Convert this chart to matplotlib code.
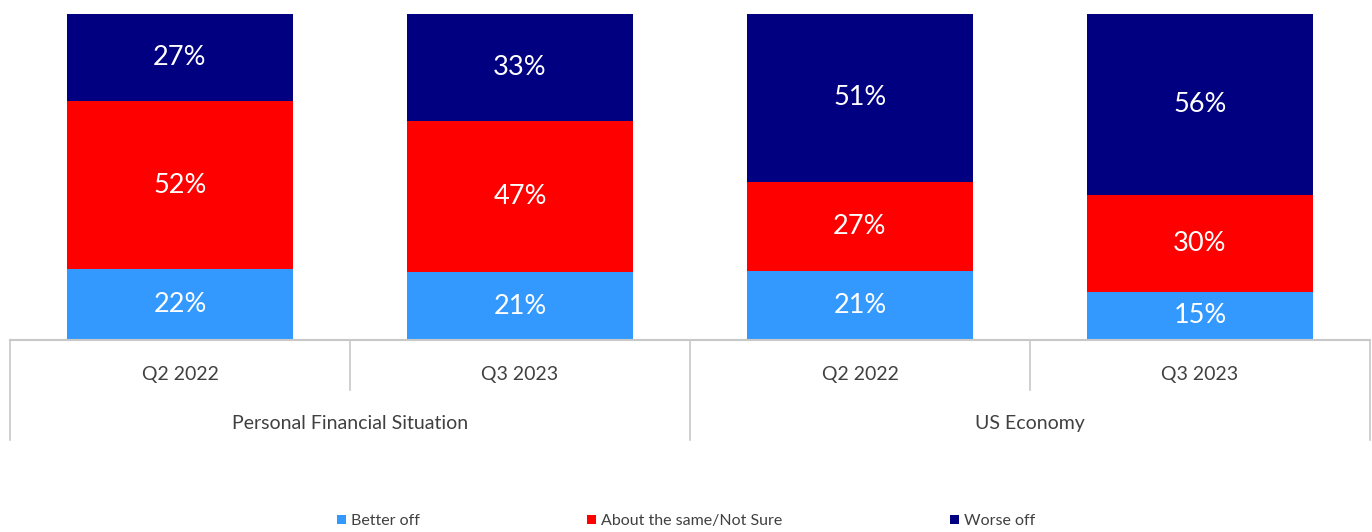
import matplotlib
matplotlib.use("Agg")
import matplotlib.pyplot as plt
import numpy as np
from matplotlib.transforms import blended_transform_factory

categories = ["Q2 2022", "Q3 2023", "Q2 2022", "Q3 2023"]
groups = ["Personal Financial Situation", "US Economy"]
series_names = ["Better off", "About the same/Not Sure", "Worse off"]
better_off = [22, 21, 21, 15]
about_same = [52, 47, 27, 30]
worse_off = [27, 33, 51, 56]
colors = ["#3399FF", "#FF0000", "#000080"]

plt.rcParams['font.family'] = ['Lato', 'DejaVu Sans']

fig = plt.figure(figsize=(13.72, 5.32), dpi=100)
ax = fig.add_axes([10/1372, 1 - 340/532, 1360/1372, 326/532])

data = np.array([better_off, about_same, worse_off], dtype=float)
totals = data.sum(axis=0)
shares = data / totals * 100
x = np.arange(len(categories))
bottom = np.zeros(len(categories))
for i, name in enumerate(series_names):
    bars = ax.bar(x, shares[i], width=0.662, bottom=bottom, color=colors[i],
                  label=name, zorder=2)
    ax.bar_label(bars, labels=[f"{v}%" for v in data[i].astype(int)],
                 label_type='center', color='white', fontsize=19.5)
    bottom += shares[i]

ax.set_xlim(-0.5, len(categories) - 0.5)
ax.set_ylim(0, 100)
ax.set_yticks([])
ax.set_xticks([])
for s in ["top", "left", "right"]:
    ax.spines[s].set_visible(False)
ax.spines["bottom"].set_color("#C8C8C8")
ax.spines["bottom"].set_linewidth(1.5)

trans = blended_transform_factory(ax.transData, ax.transAxes)
for xi, c in zip(x, categories):
    ax.text(xi, -0.107, c, transform=trans, ha='center', va='center',
            fontsize=14, color='#404040')
for gi, g in enumerate(groups):
    ax.text(gi * 2 + 0.5, -0.255, g, transform=trans, ha='center', va='center',
            fontsize=14, color='#404040')

# dividers
for xb in [-0.5, 1.5, 3.5]:
    ax.plot([xb, xb], [0, -0.307], transform=trans, color='#C8C8C8', lw=1.2, clip_on=False)
for xb in [0.5, 2.5]:
    ax.plot([xb, xb], [0, -0.153], transform=trans, color='#C8C8C8', lw=1.2, clip_on=False)

fig.legend(loc='center', bbox_to_anchor=(0.5, 1 - 521/532), ncol=3, frameon=False,
           fontsize=11.5, handlelength=0.55, handleheight=0.55, handletextpad=0.3,
           columnspacing=10.5, labelcolor='#404040')

fig.savefig("out.png", dpi=100)
